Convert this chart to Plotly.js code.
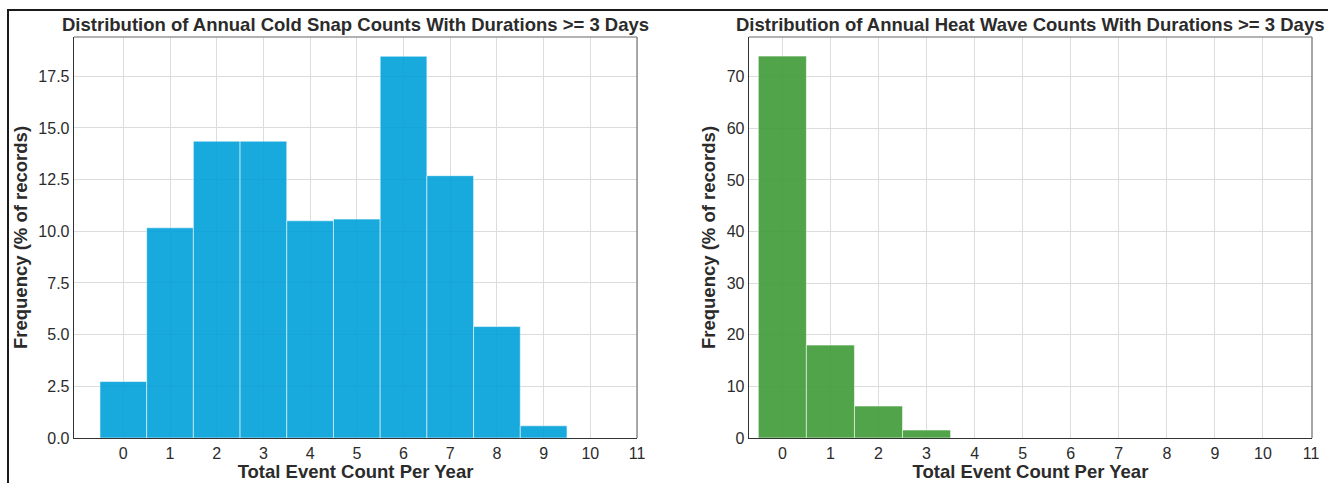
<!DOCTYPE html>
<html>
<head>
<meta charset="utf-8">
<script src="https://cdn.plot.ly/plotly-3.0.1.min.js"></script>
<style>
  html, body { margin: 0; padding: 0; background: #fff; overflow: hidden; }
  #frame { position: absolute; left: 7px; top: 9px; width: 1340px; height: 500px;
           border-top: 2px solid #1a1a1a; border-left: 2px solid #1a1a1a; pointer-events: none; z-index: 5; }
  #chart { position: absolute; left: 0; top: 0; width: 1328px; height: 483px; }
</style>
</head>
<body>
<div id="chart"></div>
<div id="frame"></div>
<script>
// ---- data ----
const eventCounts = [0, 1, 2, 3, 4, 5, 6, 7, 8, 9];
const coldSnapFreq = [2.73, 10.17, 14.36, 14.36, 10.51, 10.59, 18.47, 12.69, 5.39, 0.59];
const heatWaveCounts = [0, 1, 2, 3];
const heatWaveFreq = [74.0, 18.0, 6.2, 1.55];
const xTickVals = [0, 1, 2, 3, 4, 5, 6, 7, 8, 9, 10, 11];
const coldTitle = "Distribution of Annual Cold Snap Counts With Durations >= 3 Days";
const heatTitle = "Distribution of Annual Heat Wave Counts With Durations >= 3 Days";
const xLabel = "Total Event Count Per Year";
const yLabel = "Frequency (% of records)";

const font = "Liberation Sans, Arial, sans-serif";
const txt = "#2b2b2b";

const traces = [
  {
    type: "bar", x: eventCounts, y: coldSnapFreq, width: 1,
    xaxis: "x", yaxis: "y", opacity: 0.9,
    marker: { color: "rgb(0,160,218)", line: { color: "rgba(255,255,255,0.55)", width: 1 } },
    hoverinfo: "x+y"
  },
  {
    type: "bar", x: heatWaveCounts, y: heatWaveFreq, width: 1,
    xaxis: "x2", yaxis: "y2", opacity: 0.9,
    marker: { color: "rgb(64,155,55)", line: { color: "rgba(255,255,255,0.55)", width: 1 } },
    hoverinfo: "x+y"
  }
];

function xax(domain, range, anchor) {
  return {
    domain: domain, range: range, anchor: anchor,
    tickmode: "array", tickvals: xTickVals, ticktext: xTickVals.map(String),
    showgrid: true, gridcolor: "#dcdcdc", gridwidth: 1,
    zeroline: false, showline: true, linecolor: "#333", linewidth: 1.3, mirror: false,
    ticks: "", tickfont: { family: font, size: 16, color: txt },
    title: { text: "<b>" + xLabel + "</b>", font: { family: font, size: 18.5, color: txt }, standoff: 0 }
  };
}
function yax(range, dtick, fmt, anchor) {
  return {
    range: range, anchor: anchor, dtick: dtick, tick0: 0, tickformat: fmt,
    showgrid: true, gridcolor: "#dcdcdc", gridwidth: 1,
    zeroline: false, showline: true, linecolor: "#333", linewidth: 1.3, mirror: false,
    ticks: "", tickfont: { family: font, size: 16, color: txt },
    title: { text: "<b>" + yLabel + "</b>", font: { family: font, size: 18.5, color: txt }, standoff: 6 }
  };
}

const layout = {
  width: 1328, height: 483,
  margin: { l: 74, r: 16, t: 37, b: 45 },
  paper_bgcolor: "#ffffff", plot_bgcolor: "#ffffff",
  showlegend: false, bargap: 0,
  xaxis: xax([0, 0.4548], [-1.056, 11.0], "y"),
  yaxis: yax([0, 19.4], 2.5, ".1f", "x"),
  xaxis2: xax([0.5452, 1], [-0.695, 11.02], "y2"),
  yaxis2: yax([0, 77.7], 10, "d", "x2"),
  annotations: [
    { text: "<b>" + coldTitle + "</b>", xref: "x domain", yref: "y domain", x: 0.5, y: 1, yshift: 0,
      xanchor: "center", yanchor: "bottom", showarrow: false, font: { family: font, size: 18.5, color: txt } },
    { text: "<b>" + heatTitle + "</b>", xref: "x2 domain", yref: "y2 domain", x: 0.5, y: 1, yshift: 0,
      xanchor: "center", yanchor: "bottom", showarrow: false, font: { family: font, size: 18.5, color: txt } }
  ],
  shapes: [
    { type: "line", xref: "x domain", yref: "y domain", x0: 0, x1: 1, y0: 1, y1: 1, line: { color: "#999", width: 1.3 } },
    { type: "line", xref: "x domain", yref: "y domain", x0: 1, x1: 1, y0: 0, y1: 1, line: { color: "#777", width: 1.3 } },
    { type: "line", xref: "x2 domain", yref: "y2 domain", x0: 0, x1: 1, y0: 1, y1: 1, line: { color: "#999", width: 1.3 } },
    { type: "line", xref: "x2 domain", yref: "y2 domain", x0: 1, x1: 1, y0: 0, y1: 1, line: { color: "#777", width: 1.3 } }
  ]
};

Plotly.newPlot("chart", traces, layout, { displayModeBar: false, staticPlot: true });
</script>
</body>
</html>
